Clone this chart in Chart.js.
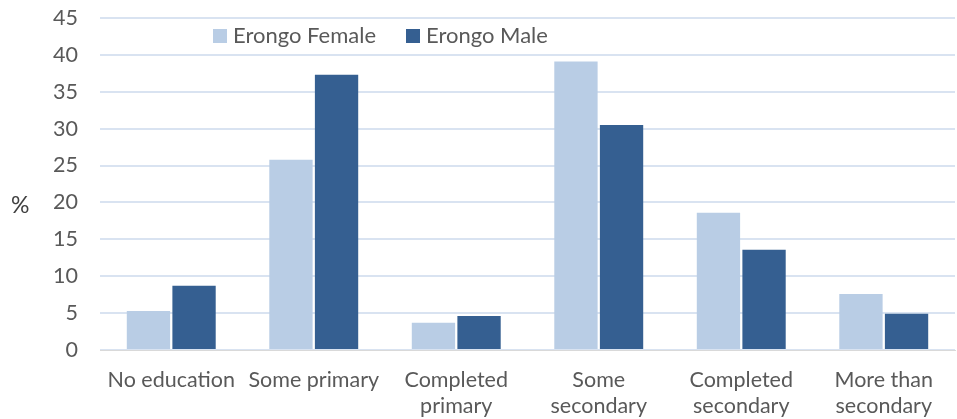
<!DOCTYPE html>
<html>
<head>
<meta charset="utf-8">
<script src="https://cdn.jsdelivr.net/npm/chart.js@4/dist/chart.umd.min.js"></script>
<style>
  html, body { margin: 0; padding: 0; background: #fff; }
  #wrap { position: relative; width: 957px; height: 419px; }
  #pct { position: absolute; left: 11px; top: 190px; font: 23px Lato, sans-serif; color: #404040; }
  #legend { position: absolute; left: 213px; top: 21px; font: 22px Lato, sans-serif; color: #595959; display: flex; gap: 30px; line-height: 28px; }
  #legend span.box { display: inline-block; width: 14px; height: 14px; margin-right: 6px; vertical-align: 0px; }
</style>
</head>
<body>
<div id="wrap">
  <canvas id="c" width="957" height="419"></canvas>
  <div id="pct">%</div>
  <div id="legend"></div>
</div>
<script>
const categories = [
  'No education', 'Some primary', ['Completed', 'primary'],
  ['Some', 'secondary'], ['Completed', 'secondary'], ['More than', 'secondary']
];
const femaleValues = [5.3, 25.8, 3.7, 39.1, 18.6, 7.6];
const maleValues = [8.7, 37.3, 4.6, 30.5, 13.6, 4.9];
const seriesNames = ['Erongo Female', 'Erongo Male'];
const colors = ['#b9cde5', '#355f91'];

const ctx = document.getElementById('c');
const chart = new Chart(ctx, {
  type: 'bar',
  data: {
    labels: categories,
    datasets: [
      { label: seriesNames[0], data: femaleValues, backgroundColor: colors[0] },
      { label: seriesNames[1], data: maleValues, backgroundColor: colors[1] }
    ]
  },
  options: {
    responsive: false,
    animation: false,
    layout: { padding: { top: 18, right: 2, left: 0, bottom: 0 } },
    datasets: { bar: { categoryPercentage: 0.64, barPercentage: 0.95 } },
    plugins: { legend: { display: false }, tooltip: { enabled: false } },
    scales: {
      x: {
        grid: { display: false },
        border: { color: '#d9d9d9', width: 1 },
        ticks: { color: '#595959', font: { family: 'Lato', size: 21.5 }, maxRotation: 0, padding: 9 },
        afterFit: s => { s.height = 69; s.paddingLeft = 0; s.paddingRight = 0; }
      },
      y: {
        min: 0, max: 45,
        ticks: { stepSize: 5, color: '#595959', font: { family: 'Lato', size: 21.5 }, padding: 22 },
        grid: { color: '#d9e3f1', lineWidth: 2, drawTicks: false },
        border: { display: false },
        afterFit: s => { s.width = 100; s.paddingTop = 0; s.paddingBottom = 0; }
      }
    }
  }
});

const legend = document.getElementById('legend');
chart.data.datasets.forEach(ds => {
  const item = document.createElement('div');
  item.innerHTML = '<span class="box" style="background:' + ds.backgroundColor + '"></span>' + ds.label;
  legend.appendChild(item);
});
</script>
</body>
</html>
